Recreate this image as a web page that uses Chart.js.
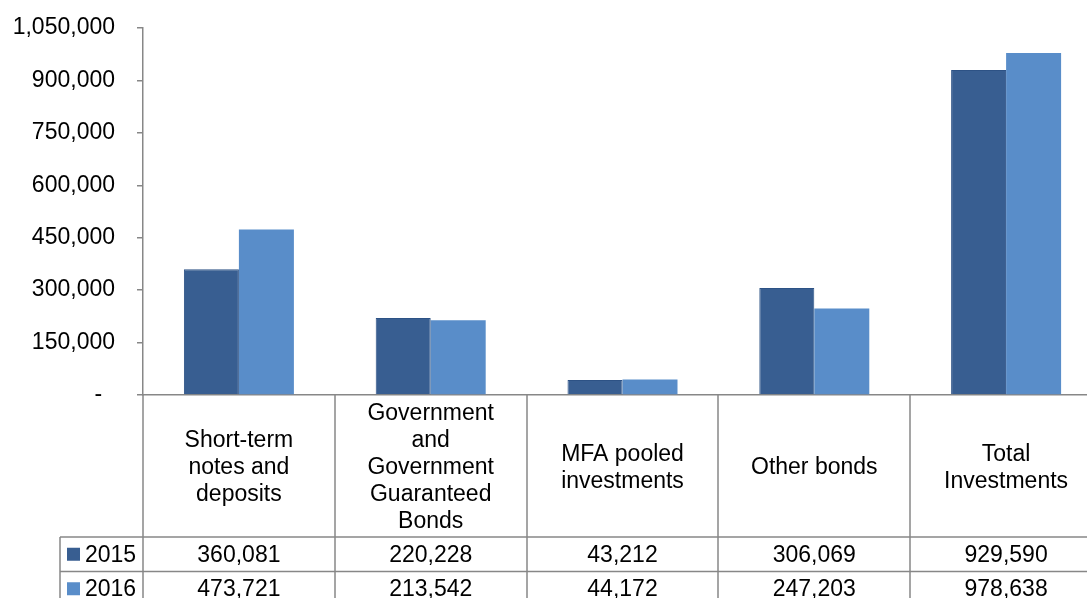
<!DOCTYPE html>
<html>
<head>
<meta charset="utf-8">
<script src="https://cdn.jsdelivr.net/npm/chart.js@4.4.0/dist/chart.umd.min.js"></script>
<style>
  html, body { margin: 0; padding: 0; background: #fff; overflow: hidden; }
  #wrap { width: 1104px; height: 598px; }
</style>
</head>
<body>
<div id="wrap"><canvas id="chart" width="1104" height="598"></canvas></div>
<script>
const categories = [
  ['Short-term', 'notes and', 'deposits'],
  ['Government', 'and', 'Government', 'Guaranteed', 'Bonds'],
  ['MFA pooled', 'investments'],
  ['Other bonds'],
  ['Total', 'Investments']
];
const seriesNames = ['2015', '2016'];
const values2015 = [360081, 220228, 43212, 306069, 929590];
const values2016 = [473721, 213542, 44172, 247203, 978638];
const yMin = 0;
const yMax = 1050000;
const yStep = 150000;

const FONT = '"Liberation Sans", Arial, sans-serif';
const FONT_SIZE = 23;
const LINE_COLOR = '#878787';

// Excel-style data table drawn under the plot, aligned to the x scale
const dataTable = {
  id: 'dataTable',
  afterDraw(chart) {
    const ctx = chart.ctx;
    const x = chart.scales.x;
    const area = chart.chartArea;
    const n = categories.length;
    const w = (area.right - area.left) / n;
    const top = area.bottom;
    const headBottom = top + 142;
    const rowH = 34.5;
    const legendLeft = 60;
    const bottom = chart.height + 20;

    ctx.save();
    ctx.strokeStyle = LINE_COLOR;
    ctx.lineWidth = 1.5;
    const line = (x1, y1, x2, y2) => {
      ctx.beginPath(); ctx.moveTo(x1, y1); ctx.lineTo(x2, y2); ctx.stroke();
    };
    for (let i = 0; i <= n; i++) {
      const px = Math.round(area.left + i * w);
      line(px, top, px, bottom);
    }
    line(legendLeft, headBottom, legendLeft, bottom);
    for (let r = 0; r <= chart.data.datasets.length; r++) {
      const py = headBottom + r * rowH;
      line(legendLeft, py, area.right, py);
    }

    ctx.font = FONT_SIZE + 'px ' + FONT;
    ctx.fillStyle = '#000';
    ctx.textAlign = 'center';
    ctx.textBaseline = 'middle';
    const lh = 27;
    categories.forEach((lab, i) => {
      const cx = x.getPixelForValue(i);
      const lines = Array.isArray(lab) ? lab : [lab];
      const y0 = (top + headBottom) / 2 - (lines.length - 1) * lh / 2 + 2;
      lines.forEach((t, j) => ctx.fillText(t, cx, y0 + j * lh));
    });

    chart.data.datasets.forEach((ds, r) => {
      const cy = headBottom + r * rowH + rowH / 2;
      ctx.textAlign = 'center';
      ctx.fillStyle = '#000';
      ds.data.forEach((v, i) => {
        ctx.fillText(v.toLocaleString('en-US'), x.getPixelForValue(i), cy + 1);
      });
      ctx.fillStyle = ds.backgroundColor;
      ctx.fillRect(67, cy - 6.5, 13, 13);
      ctx.fillStyle = '#000';
      ctx.textAlign = 'left';
      ctx.fillText(ds.label, 85, cy + 1);
    });
    ctx.restore();
  }
};

new Chart(document.getElementById('chart'), {
  type: 'bar',
  data: {
    labels: categories,
    datasets: [
      {
        label: seriesNames[0],
        data: values2015,
        backgroundColor: '#385E91',
        borderColor: '#2D5285',
        borderWidth: 1
      },
      {
        label: seriesNames[1],
        data: values2016,
        backgroundColor: '#598DC9',
        borderColor: '#598DC9',
        borderWidth: 0
      }
    ]
  },
  options: {
    responsive: false,
    animation: false,
    layout: { padding: { top: 28, bottom: 203, left: 0, right: 2 } },
    plugins: {
      legend: { display: false },
      tooltip: { enabled: false }
    },
    datasets: {
      bar: { categoryPercentage: 0.5735, barPercentage: 1 }
    },
    scales: {
      x: {
        afterFit(scale) { scale.height = 0; },
        ticks: { display: false },
        grid: { display: false, drawTicks: false },
        border: { display: true, color: LINE_COLOR, width: 1.5 }
      },
      y: {
        min: yMin,
        max: yMax,
        afterFit(scale) {
          scale.width = 143;
          scale.paddingTop = 0;
          scale.paddingBottom = 0;
        },
        ticks: {
          stepSize: yStep,
          padding: 22,
          color: '#000',
          font: { family: FONT, size: FONT_SIZE },
          callback: v => v === 0 ? '-  ' : v.toLocaleString('en-US')
        },
        grid: {
          drawOnChartArea: false,
          drawTicks: true,
          tickLength: 6,
          color: LINE_COLOR,
          lineWidth: 1.5
        },
        border: { display: true, color: LINE_COLOR, width: 1.5 }
      }
    }
  },
  plugins: [dataTable]
});
</script>
</body>
</html>
